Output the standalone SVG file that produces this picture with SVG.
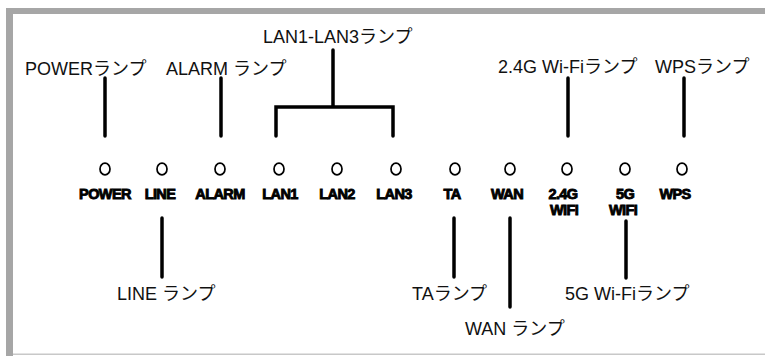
<svg xmlns="http://www.w3.org/2000/svg" width="765" height="356" viewBox="0 0 765 356">
<style>
.lbl{font-family:"Liberation Sans","Noto Sans CJK JP",sans-serif;font-size:18px;fill:#111}
.led{font-family:"Liberation Sans",Arial,sans-serif;font-size:14.5px;font-weight:bold;fill:#000;stroke:#000;stroke-width:0.9;text-anchor:middle;letter-spacing:-0.6px}
.ln{stroke:#000;stroke-width:3.5;fill:none;stroke-linecap:round;stroke-linejoin:miter}
.dot{fill:none;stroke:#000;stroke-width:1.7}
</style>
<rect width="765" height="356" fill="#fff"/>
<g id="frame">
<rect x="6" y="8" width="759" height="6" fill="#a6a6a6"/>
<rect x="6" y="8" width="7" height="348" fill="#a6a6a6"/>
<rect x="13" y="353.5" width="752" height="1.5" fill="#c8c8c8"/>
</g>
<g id="connectors">
<path class="ln" d="M105 78V136"/>
<path class="ln" d="M221 78V136"/>
<path class="ln" d="M333 50V107M276 136V107H393V136"/>
<path class="ln" d="M568 78V136"/>
<path class="ln" d="M684 78V136"/>
<path class="ln" d="M162 218V277"/>
<path class="ln" d="M454 218V277"/>
<path class="ln" d="M510 218V307"/>
<path class="ln" d="M626 221V278"/>
</g>
<g id="led-power"><ellipse class="dot" cx="105" cy="169" rx="5" ry="5.8"/><text class="led" x="105" y="199">POWER</text></g>
<g id="led-line"><ellipse class="dot" cx="162" cy="169" rx="5" ry="5.8"/><text class="led" x="160" y="199">LINE</text></g>
<g id="led-alarm"><ellipse class="dot" cx="220" cy="169" rx="5" ry="5.8"/><text class="led" x="220" y="199">ALARM</text></g>
<g id="led-lan1"><ellipse class="dot" cx="279" cy="169" rx="5" ry="5.8"/><text class="led" x="280" y="199">LAN1</text></g>
<g id="led-lan2"><ellipse class="dot" cx="337" cy="169" rx="5" ry="5.8"/><text class="led" x="337" y="199">LAN2</text></g>
<g id="led-lan3"><ellipse class="dot" cx="396" cy="169" rx="5" ry="5.8"/><text class="led" x="394" y="199">LAN3</text></g>
<g id="led-ta"><ellipse class="dot" cx="455" cy="169" rx="5" ry="5.8"/><text class="led" x="452" y="199">TA</text></g>
<g id="led-wan"><ellipse class="dot" cx="510" cy="169" rx="5" ry="5.8"/><text class="led" x="507" y="199">WAN</text></g>
<g id="led-24g"><ellipse class="dot" cx="567" cy="169" rx="5" ry="5.8"/><text class="led" x="563" y="199">2.4G</text><text class="led" x="564" y="215">WIFI</text></g>
<g id="led-5g"><ellipse class="dot" cx="625" cy="169" rx="5" ry="5.8"/><text class="led" x="625" y="199">5G</text><text class="led" x="623" y="215">WIFI</text></g>
<g id="led-wps"><ellipse class="dot" cx="682" cy="169" rx="5" ry="5.8"/><text class="led" x="675" y="199">WPS</text></g>
<g id="label-power"><text class="lbl" x="25" y="75">POWERランプ</text></g>
<g id="label-alarm"><text class="lbl" x="166" y="75">ALARM ランプ</text></g>
<g id="label-lan"><text class="lbl" x="263" y="43">LAN1-LAN3ランプ</text></g>
<g id="label-24g"><text class="lbl" x="498" y="73">2.4G Wi-Fiランプ</text></g>
<g id="label-wps"><text class="lbl" x="655" y="73">WPSランプ</text></g>
<g id="label-line"><text class="lbl" x="117" y="300">LINE ランプ</text></g>
<g id="label-ta"><text class="lbl" x="412" y="300">TAランプ</text></g>
<g id="label-5g"><text class="lbl" x="565" y="300">5G Wi-Fiランプ</text></g>
<g id="label-wan"><text class="lbl" x="465" y="335">WAN ランプ</text></g>
</svg>
